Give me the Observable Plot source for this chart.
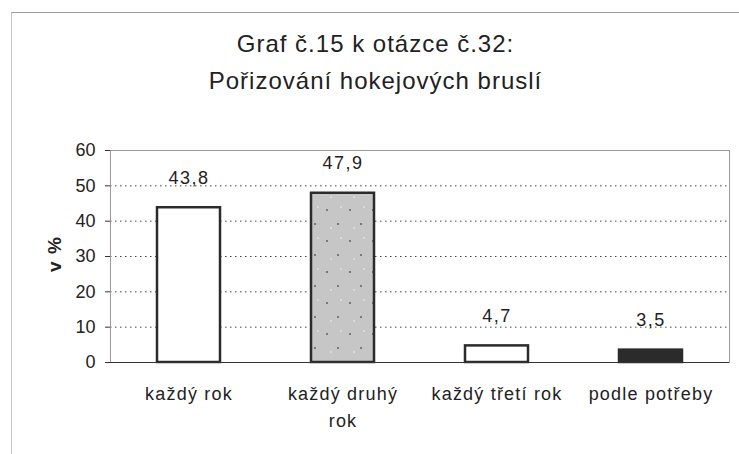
<!DOCTYPE html>
<html><head><meta charset="utf-8">
<script src="https://cdn.jsdelivr.net/npm/d3@7"></script>
<script src="https://cdn.jsdelivr.net/npm/@observablehq/plot@0.6"></script>
<style>
body{margin:0;background:#fff;font-family:"Liberation Sans",Arial,sans-serif;}
#wrap{position:relative;width:739px;height:454px;overflow:hidden;background:#fff;}
#border{position:absolute;left:11px;top:12px;right:-5px;bottom:-5px;border-left:1.5px solid #c4c4c4;border-top:1.5px solid #9a9a9a;}
#title{position:absolute;left:12px;right:0;top:25px;text-align:center;font-size:24px;letter-spacing:1px;line-height:37px;color:#222;}
#ylab{position:absolute;left:55px;top:254px;transform:translate(-50%,-50%) rotate(-90deg);font-size:19px;letter-spacing:1px;font-weight:bold;color:#222;white-space:nowrap;}
#chart{position:absolute;left:0;top:110px;}
</style></head><body>
<div id="wrap"><div id="border"></div>
<div id="title">Graf č.15 k otázce č.32:<br>Pořizování hokejových bruslí</div>
<div id="chart"></div>
<div id="ylab">v %</div>
</div>
<script>
const categories = ["každý rok", "každý druhý rok", "každý třetí rok", "podle potřeby"];
const values = [43.8, 47.9, 4.7, 3.5];
const tickLabels = ["každý rok", "každý druhý\nrok", "každý třetí rok", "podle potřeby"];
const yTicks = [0, 10, 20, 30, 40, 50, 60];

const data = categories.map((c, i) => ({category: c, value: values[i]}));
const fills = ["#ffffff", "url(#speckle)", "#ffffff", "#2b2b2b"];
const font = "Liberation Sans, Arial, sans-serif";

const chart = Plot.plot({
  width: 739, height: 344,
  marginTop: 40, marginBottom: 92, marginLeft: 110, marginRight: 10,
  style: {fontFamily: font, fontSize: "18px", color: "#222", background: "transparent"},
  x: {domain: categories, paddingInner: 0.59, paddingOuter: 0.295, align: 0.5, label: null},
  y: {domain: [0, 60], label: null},
  color: {domain: categories, range: fills},
  marks: [
    Plot.gridY(yTicks.slice(1, -1), {stroke: "#444", strokeOpacity: 1, strokeDasharray: "1.5,3.5"}),
    Plot.frame({stroke: "#999"}),
    Plot.barY(data, {x: "category", y: "value", fill: "category", stroke: "#2b2b2b", strokeWidth: 2.5}),
    Plot.ruleY([0], {stroke: "#333"}),
    Plot.axisY(yTicks, {tickSize: 5, tickPadding: 10, line: true, stroke: "#333", fontSize: 18, label: null}),
    Plot.axisX({tickSize: 0, tickPadding: 18, tickFormat: d => tickLabels[categories.indexOf(d)], lineHeight: 1.5, fontSize: 18, label: null}),
    Plot.text(data, {x: "category", y: "value", text: d => d.value.toFixed(1).replace(".", ","), dy: -30, fontSize: 18, fill: "#222"})
  ]
});

const ns = "http://www.w3.org/2000/svg";
const defs = document.createElementNS(ns, "defs");
defs.innerHTML = `<pattern id="speckle" patternUnits="userSpaceOnUse" width="23" height="31">
<rect width="23" height="31" fill="#c6c6c6"/>
<circle cx="5" cy="7" r="0.9" fill="#555"/>
<circle cx="16" cy="21" r="0.9" fill="#555"/>
<circle cx="19" cy="4" r="0.7" fill="#fff"/>
<circle cx="9" cy="25" r="0.7" fill="#fff"/>
</pattern>`;
chart.insertBefore(defs, chart.firstChild);
chart.querySelectorAll('[aria-label="x-axis tick label"]').forEach(g => g.style.letterSpacing = "1.2px");
chart.querySelectorAll('[aria-label="text"]').forEach(g => g.style.letterSpacing = "1.5px");
document.getElementById("chart").appendChild(chart);
</script>
</body></html>
